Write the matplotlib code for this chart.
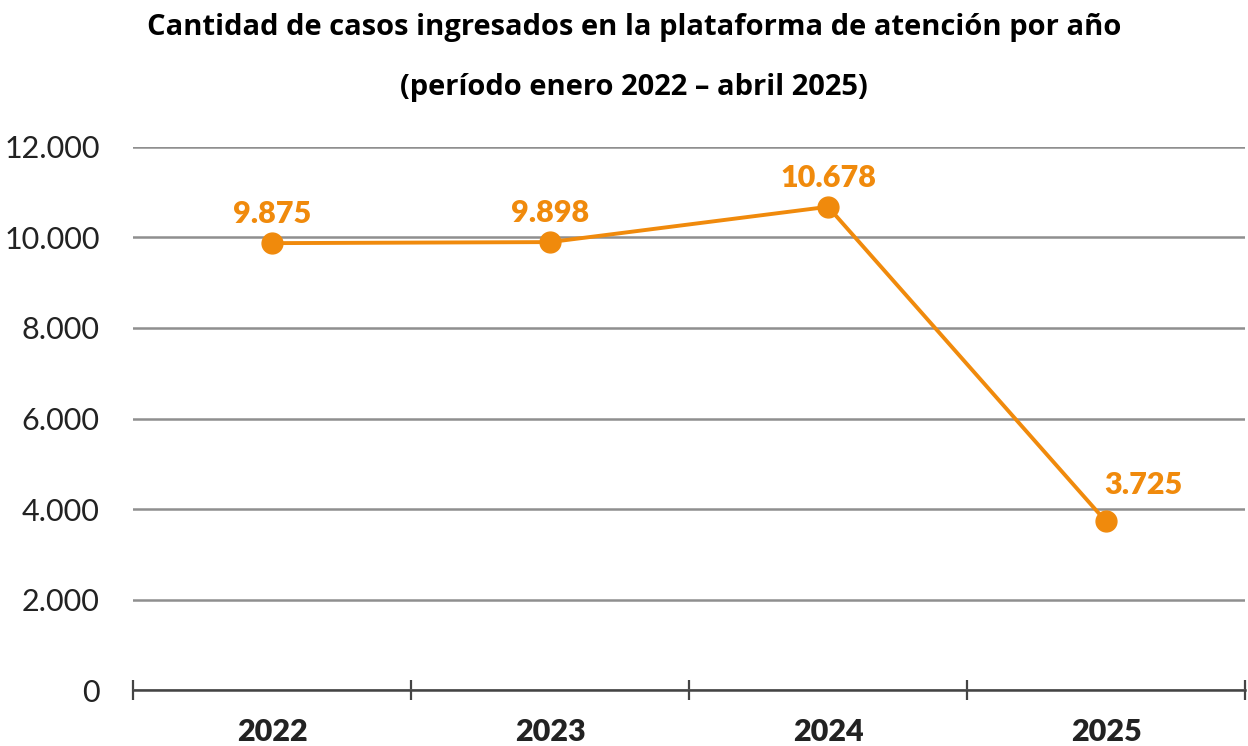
import matplotlib
matplotlib.use("Agg")
import matplotlib.pyplot as plt
from matplotlib.ticker import FuncFormatter

# datos
anios = ["2022", "2023", "2024", "2025"]
casos = [9875, 9898, 10678, 3725]
titulo_1 = "Cantidad de casos ingresados en la plataforma de atención por año"
titulo_2 = "(período enero 2022 – abril 2025)"

naranja = "#F08A0C"
plt.rcParams["font.family"] = ["Lato", "DejaVu Sans"]


def miles(v, pos=None):
    return f"{int(v):,}".replace(",", ".")


fig = plt.figure(figsize=(12.48, 7.46), dpi=100)
ax = fig.add_axes([0.1066, 0.075, 0.891, 0.728])

x = list(range(len(anios)))
ax.plot(x, casos, color=naranja, lw=2.8, marker="o", ms=15, zorder=3)

# etiquetas de valores
for i, v in enumerate(casos):
    if i == len(casos) - 1:
        ax.annotate(miles(v), (i, v), xytext=(27, 16), textcoords="offset points",
                    ha="center", va="bottom", color=naranja,
                    fontsize=22, fontweight="heavy")
    else:
        ax.annotate(miles(v), (i, v), xytext=(0, 11), textcoords="offset points",
                    ha="center", va="bottom", color=naranja,
                    fontsize=22, fontweight="heavy")

ax.set_xlim(-0.5, len(anios) - 0.5)
ax.set_ylim(0, 12000)
ax.set_yticks(range(0, 12001, 2000))
ax.yaxis.set_major_formatter(FuncFormatter(miles))
ax.grid(axis="y", color="#8f8f8f", lw=1.8)
ax.set_axisbelow(True)

# ticks del eje x en los limites de categoria, etiquetas al centro
ax.set_xticks([i - 0.5 for i in range(len(anios) + 1)])
ax.set_xticklabels([])
ax.set_xticks(x, minor=True)
ax.set_xticklabels(anios, minor=True, fontsize=22, fontweight="heavy", color="#222222")
ax.tick_params(axis="x", which="major", direction="inout", length=14, width=1.6,
               color="#444444")
ax.tick_params(axis="x", which="minor", length=0, pad=20)
ax.tick_params(axis="y", length=0, pad=24, labelsize=22, labelcolor="#222222")

for s in ["left", "right", "top"]:
    ax.spines[s].set_visible(False)
ax.spines["bottom"].set_color("#444444")
ax.spines["bottom"].set_linewidth(1.8)
ax.spines["bottom"].set_zorder(4)

fig.text(0.508, 0.963, titulo_1, ha="center", va="center", fontsize=21,
         fontweight="bold", family=["Open Sans", "DejaVu Sans"])
fig.text(0.508, 0.883, titulo_2, ha="center", va="center", fontsize=21,
         fontweight="bold", family=["Open Sans", "DejaVu Sans"])

fig.savefig("out.png", dpi=100)
